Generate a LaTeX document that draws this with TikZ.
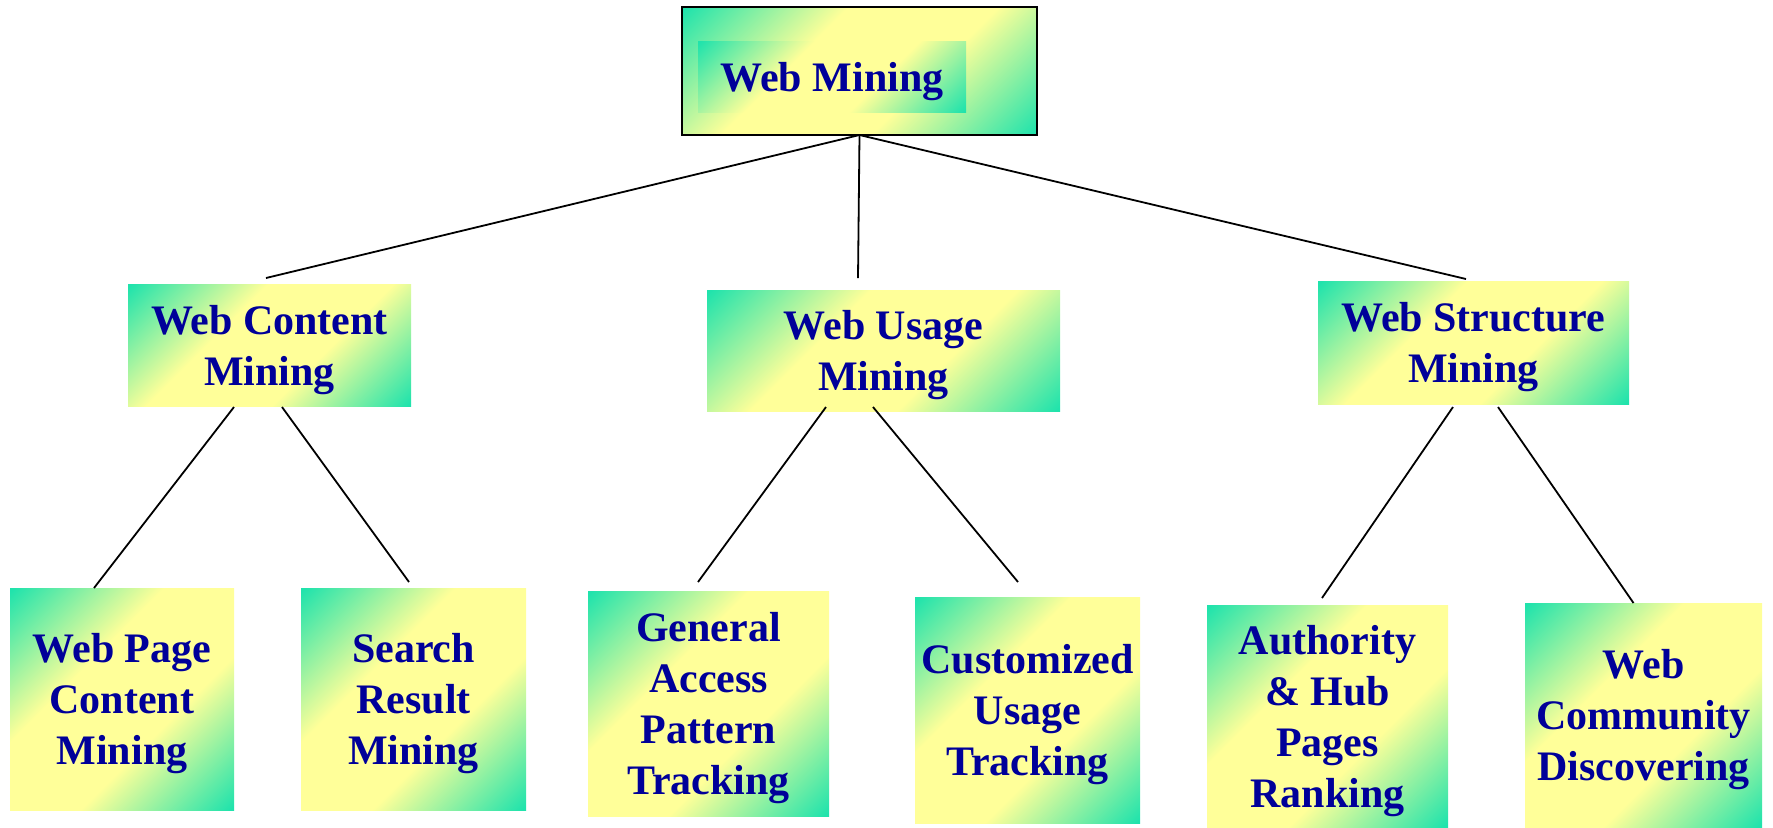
\documentclass[tikz,border=0pt]{standalone}
\usepackage{fontspec}
\setmainfont{Liberation Serif}
\definecolor{wmteal}{RGB}{32,227,172}
\definecolor{wmyellow}{RGB}{255,255,153}
\definecolor{wmtext}{RGB}{0,0,153}
\pgfdeclareverticalshading{wmshade}{100bp}{color(0bp)=(wmteal); color(15bp)=(wmteal); color(39bp)=(wmyellow); color(61bp)=(wmyellow); color(85bp)=(wmteal); color(100bp)=(wmteal)}
\begin{document}
\begin{tikzpicture}[x=0.5pt, y=-0.5pt,
    box/.style={shading=wmshade, shading angle=45, inner sep=0pt, outer sep=0pt, align=center,
      text depth=0pt, text=wmtext, font=\fontsize{21}{25.5}\selectfont\bfseries},
    link/.style={line width=0.9pt}]
    \useasboundingbox (0,0) rectangle (1773,827);
    \node[box, draw=black, line width=1.2pt, minimum width=177.5pt, minimum height=64pt] (wm) at (859.5,71) {};
    \node[box, minimum width=134pt, minimum height=35.5pt] (wmlabel) at (832,76.5) {Web Mining};
    \node[box, minimum width=141.5pt, minimum height=61pt] (wcm) at (269.5,345) {Web Content\\Mining};
    \node[box, minimum width=176.5pt, minimum height=60.5pt] (wum) at (883.5,350.5) {Web Usage\\Mining};
    \node[box, minimum width=155.5pt, minimum height=61.5pt] (wsm) at (1473.5,342.5) {Web Structure\\Mining};
    \node[box, minimum width=112pt, minimum height=111pt] (wpcm) at (122,699) {Web Page\\Content\\Mining};
    \node[box, minimum width=112.5pt, minimum height=111pt] (srm) at (413.5,699) {Search\\Result\\Mining};
    \node[box, minimum width=120.5pt, minimum height=112.5pt] (gapt) at (708.5,703.5) {General\\Access\\Pattern\\Tracking};
    \node[box, minimum width=112.5pt, minimum height=113pt] (cut) at (1027.5,710) {Customized\\Usage\\Tracking};
    \node[box, minimum width=120.5pt, minimum height=111pt] (ahpr) at (1327.5,716) {Authority\\\& Hub\\Pages\\Ranking};
    \node[box, minimum width=118.5pt, minimum height=112pt] (wcd) at (1643.5,715) {Web\\Community\\Discovering};
    \draw[link] (wm.south) -- ([xshift=-1.75pt,yshift=3pt]wcm.north);
    \draw[link] (wm.south) -- ([xshift=-12.75pt,yshift=6pt]wum.north);
    \draw[link] (wm.south) -- ([xshift=-3.75pt,yshift=1pt]wsm.north);
    \draw[link] ([xshift=-17.75pt,yshift=-0.5pt]wcm.south) -- ([xshift=-14pt]wpcm.north);
    \draw[link] ([xshift=6.25pt,yshift=-0.5pt]wcm.south) -- ([xshift=-2.25pt,yshift=3pt]srm.north);
    \draw[link] ([xshift=-28.75pt,yshift=2pt]wum.south) -- ([xshift=-5.25pt,yshift=4.5pt]gapt.north);
    \draw[link] ([xshift=-5.25pt,yshift=2pt]wum.south) -- ([xshift=-4.75pt,yshift=7.5pt]cut.north);
    \draw[link] ([xshift=-10.25pt,yshift=-1.5pt]wsm.south) -- ([xshift=-2.75pt,yshift=3.5pt]ahpr.north);
    \draw[link] ([xshift=12.25pt,yshift=-1.5pt]wsm.south) -- ([xshift=-5pt]wcd.north);
\end{tikzpicture}
\end{document}
